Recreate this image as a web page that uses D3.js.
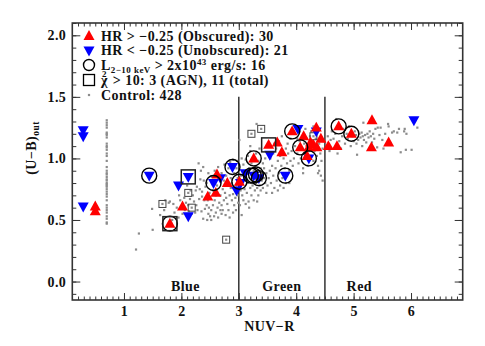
<!DOCTYPE html>
<html>
<head>
<meta charset="utf-8">
<script src="https://cdn.jsdelivr.net/npm/d3@7"></script>
<style>
  body { margin: 0; background: #fff; }
  svg text { font-family: "Liberation Serif", "Times New Roman", serif; font-weight: bold; fill: #111; letter-spacing: 0.45px; }
</style>
</head>
<body>
<div id="chart"></div>
<script>
// NUV-R vs (U-B)out, X-ray AGN hosts against the control sample

var obscured = [   // HR > -0.25, red up triangles
  [0.50, 0.61], [0.50, 0.57], [1.80, 0.47], [2.02, 0.61], [2.46, 0.69], [2.60, 0.72],
  [2.62, 0.87], [2.80, 0.80], [3.01, 0.81], [3.26, 1.00], [3.52, 1.11], [3.67, 1.13],
  [3.75, 1.05], [3.93, 1.22], [4.07, 1.09], [4.13, 1.18], [4.19, 1.02], [4.22, 1.09],
  [4.25, 1.13], [4.30, 1.11], [4.35, 1.25], [4.36, 1.09], [4.43, 1.16], [4.56, 1.10],
  [4.71, 1.10], [4.74, 1.26], [4.96, 1.20], [5.31, 1.09], [5.32, 1.31], [5.61, 1.13]
];
var unobscured = [ // HR < -0.25, blue down triangles
  [0.29, 1.23], [0.29, 1.18], [0.29, 0.61], [1.44, 0.86], [1.95, 0.78], [2.12, 0.85],
  [2.12, 0.53], [2.56, 0.80], [2.68, 0.84], [2.89, 0.93], [2.96, 0.74], [3.03, 0.80],
  [3.11, 0.88], [3.26, 0.86], [3.35, 0.84], [3.54, 1.03], [3.81, 0.86], [4.03, 1.24],
  [4.22, 1.00], [4.35, 1.22], [6.05, 1.31]
];
var luminous = [   // L(2-10 keV) > 2x10^43 erg/s, open circles
  [1.44, 0.86], [1.80, 0.47], [2.56, 0.80], [2.89, 0.93], [3.01, 0.81], [3.21, 0.86],
  [3.26, 1.00], [3.26, 0.86], [3.35, 0.84], [3.81, 0.86], [3.93, 1.22], [4.07, 1.09],
  [4.22, 1.00], [4.74, 1.26], [4.96, 1.20], [3.30, 0.87]
];
var chiAgn = [[1.80, 0.47], [2.12, 0.85], [3.52, 1.11]];   // chi^2 > 10, AGN
var chiControl = [                                        // chi^2 > 10, control
  [1.67, 0.63], [2.12, 0.72], [2.18, 0.60], [2.78, 0.34], [3.22, 1.20], [3.39, 1.24],
  [4.30, 1.18], [3.35, 0.86]
];

var controlColumn = [1.31, 1.29, 1.27, 1.25, 1.21, 1.20, 1.19, 1.17, 1.12, 1.10, 1.09,
  1.07, 1.04, 1.02, 0.98, 0.93, 0.90, 0.88, 0.87, 0.85, 0.83, 0.82, 0.80, 0.79, 0.78,
  0.77, 0.75, 0.73, 0.71, 0.69, 0.66, 0.62, 0.60, 0.58, 0.56, 0.53, 0.51, 0.48, 0.47];
var controlColumnX = 0.70;

var control = [
  [1.21, 0.26], [1.26, 0.39], [1.50, 0.42], [1.49, 0.59], [1.63, 0.54], [1.72, 0.66],
  [1.78, 0.64], [1.80, 0.65], [1.86, 0.63], [1.88, 0.56], [1.92, 0.60], [1.95, 0.52],
  [1.98, 0.66], [1.84, 0.50], [1.70, 0.58], [1.96, 0.70],
  [2.30, 0.96], [2.38, 0.93], [2.34, 0.90], [2.47, 0.88], [2.05, 0.68], [2.08, 0.64],
  [2.15, 0.67], [2.20, 0.70], [2.25, 0.74], [2.27, 0.77], [2.32, 0.75], [2.36, 0.73],
  [2.42, 0.77], [2.22, 0.65], [2.26, 0.62], [2.31, 0.67], [2.36, 0.69], [2.40, 0.66],
  [2.44, 0.62], [2.28, 0.58], [2.24, 0.56], [2.35, 0.57], [2.41, 0.59], [2.47, 0.55],
  [2.18, 0.55], [2.12, 0.62], [2.06, 0.58], [2.02, 0.55], [2.38, 0.51], [2.45, 0.50],
  [2.50, 0.53], [2.48, 0.60], [2.46, 0.66], [2.49, 0.72], [2.44, 0.80], [2.39, 0.82],
  [2.33, 0.83], [2.16, 0.74], [2.10, 0.78], [2.13, 0.57],
  [2.52, 0.58], [2.55, 0.62], [2.58, 0.66], [2.60, 0.56], [2.63, 0.60], [2.66, 0.64],
  [2.68, 0.70], [2.70, 0.62], [2.72, 0.58], [2.74, 0.66], [2.76, 0.72], [2.78, 0.68],
  [2.80, 0.63], [2.82, 0.58], [2.84, 0.70], [2.86, 0.76], [2.88, 0.66], [2.90, 0.71],
  [2.92, 0.62], [2.94, 0.68], [2.96, 0.78], [2.98, 0.70], [2.55, 0.74], [2.62, 0.78],
  [2.66, 0.85], [2.70, 0.88], [2.74, 0.82], [2.78, 0.86], [2.82, 0.92], [2.86, 0.84],
  [2.92, 0.88], [2.96, 0.92], [2.98, 0.84], [2.53, 0.85], [2.58, 0.90], [2.64, 0.93],
  [2.75, 0.95], [2.85, 0.97], [2.90, 0.99], [2.52, 0.50], [2.57, 0.53], [2.64, 0.52],
  [2.70, 0.55], [2.77, 0.54], [2.84, 0.52], [2.90, 0.56], [2.95, 0.58], [2.60, 0.70],
  [2.72, 0.75], [2.80, 0.78], [2.88, 0.80], [2.93, 0.75], [2.68, 0.58], [2.99, 0.64],
  [2.97, 0.98],
  [3.02, 0.62], [3.05, 0.54], [3.06, 0.70], [3.08, 0.66], [3.10, 0.75], [3.12, 0.63],
  [3.14, 0.72], [3.15, 0.80], [3.17, 0.65], [3.18, 0.92], [3.20, 0.76], [3.22, 0.70],
  [3.24, 0.78], [3.26, 0.66], [3.28, 0.74], [3.30, 0.80], [3.32, 0.76], [3.34, 0.70],
  [3.36, 0.78], [3.38, 0.74], [3.40, 0.82], [3.42, 0.76], [3.44, 0.84], [3.46, 0.80],
  [3.48, 0.88], [3.04, 0.86], [3.08, 0.95], [3.12, 0.99], [3.16, 1.02], [3.22, 0.96],
  [3.28, 0.93], [3.34, 0.98], [3.38, 0.92], [3.42, 0.96], [3.46, 1.00], [3.44, 0.92],
  [3.20, 1.06], [3.30, 1.04], [3.36, 1.08], [3.48, 0.72], [3.03, 0.74], [3.10, 0.84],
  [3.26, 0.90], [3.40, 0.88], [3.05, 1.00], [3.18, 0.60], [3.32, 0.65], [3.31, 1.28],
  [3.01, 1.15], [3.20, 1.10],
  [3.50, 0.78], [3.52, 0.84], [3.54, 0.90], [3.56, 0.80], [3.58, 0.94], [3.60, 0.86],
  [3.62, 0.76], [3.64, 0.92], [3.66, 0.82], [3.68, 0.98], [3.70, 0.88], [3.72, 0.78],
  [3.74, 0.94], [3.76, 0.84], [3.78, 1.00], [3.80, 0.92], [3.82, 0.80], [3.84, 0.96],
  [3.86, 1.04], [3.88, 0.90], [3.90, 0.98], [3.92, 1.06], [3.94, 0.94], [3.96, 1.00],
  [3.98, 1.10], [3.55, 1.00], [3.60, 1.04], [3.65, 1.08], [3.70, 1.14], [3.75, 1.18],
  [3.85, 1.12], [3.90, 1.16], [3.95, 1.20], [3.58, 0.72], [3.68, 0.74], [3.78, 0.76],
  [3.88, 0.80], [3.62, 1.12], [3.72, 1.02], [3.82, 1.08],
  [4.02, 1.04], [4.04, 0.96], [4.06, 1.14], [4.08, 1.00], [4.10, 1.08], [4.12, 0.92],
  [4.14, 1.12], [4.16, 1.04], [4.18, 1.16], [4.20, 0.94], [4.22, 1.06], [4.24, 1.18],
  [4.26, 1.02], [4.28, 1.14], [4.30, 0.98], [4.32, 1.06], [4.34, 1.16], [4.36, 1.02],
  [4.38, 0.94], [4.40, 1.12], [4.42, 1.04], [4.44, 0.98], [4.46, 1.08], [4.48, 1.14],
  [4.40, 0.90], [4.43, 0.86], [4.46, 0.82], [4.38, 0.88], [4.06, 1.22], [4.16, 1.24],
  [4.26, 1.22], [4.12, 0.88], [4.02, 1.16], [4.30, 1.26],
  [4.55, 1.18], [4.60, 1.15], [4.65, 1.16], [4.62, 1.22], [4.70, 1.32], [4.68, 1.20],
  [4.75, 1.14], [4.80, 1.18], [4.82, 1.24], [4.85, 1.12], [4.88, 1.20], [4.90, 1.16],
  [4.92, 1.26], [4.95, 1.10], [4.98, 1.18], [5.00, 1.14], [5.02, 1.22], [5.04, 1.19],
  [5.06, 1.03], [5.08, 1.15], [5.10, 1.20], [5.12, 1.17], [5.14, 1.21], [5.16, 1.18],
  [5.17, 1.29], [5.18, 1.15], [5.20, 1.19], [5.22, 1.13], [5.24, 1.20], [5.26, 1.17],
  [5.28, 1.22], [5.30, 1.18], [5.32, 1.13], [5.34, 1.20], [5.36, 1.16], [5.38, 1.24],
  [5.41, 1.09], [5.42, 1.25], [5.45, 1.19], [5.47, 1.25], [5.50, 1.15], [5.52, 1.08],
  [5.55, 1.20], [5.60, 1.28], [5.61, 1.26], [5.64, 1.12], [5.67, 1.21], [5.70, 1.22],
  [5.76, 1.21], [5.79, 1.24], [5.82, 1.05], [5.88, 1.22], [5.89, 1.24], [5.91, 1.07],
  [5.92, 1.20], [6.01, 1.07], [6.11, 1.25], [4.58, 1.06], [4.72, 1.04], [4.78, 1.08],
  [5.15, 1.10], [5.05, 1.12]
];

var xTicks = [1, 2, 3, 4, 5, 6];
var yTicks = [0.0, 0.5, 1.0, 1.5, 2.0];
var regionCuts = [3.0, 4.5];
var regionNames = ['Blue', 'Green', 'Red'];

var width = 485, height = 346;
// note: "top" is a read-only global in browsers, so the frame edges get a prefix
var fLeft = 72.3, fRight = 462.7, fTop = 23, fBottom = 300;

var x = d3.scaleLinear().domain([0.1, 6.9]).range([fLeft, fRight]);
var y = d3.scaleLinear().domain([-0.15, 2.1]).range([fBottom, fTop]);

var svg = d3.select('#chart').append('svg')
    .attr('width', width)
    .attr('height', height);

// ---- axes: ticks point inwards on all four sides
var xMinor = d3.range(2, 69).map(function(d) { return d / 10; });
var yMinor = d3.range(-1, 22).map(function(d) { return d / 10; });

function axisGroup(axis, tx, ty) {
    var g = svg.append('g').attr('transform', 'translate(' + tx + ',' + ty + ')').call(axis);
    g.select('.domain').remove();
    g.selectAll('line').attr('stroke', '#333').attr('stroke-width', 1);
    return g;
}
axisGroup(d3.axisBottom(x).tickValues(xMinor).tickSize(-3.5).tickFormat(''), 0, fBottom);
axisGroup(d3.axisTop(x).tickValues(xMinor).tickSize(-3.5).tickFormat(''), 0, fTop);
axisGroup(d3.axisLeft(y).tickValues(yMinor).tickSize(-4).tickFormat(''), fLeft, 0);
axisGroup(d3.axisRight(y).tickValues(yMinor).tickSize(-4).tickFormat(''), fRight, 0);

var xb = axisGroup(d3.axisBottom(x).tickValues(xTicks).tickSize(-7).tickPadding(6)
    .tickFormat(d3.format('d')), 0, fBottom);
axisGroup(d3.axisTop(x).tickValues(xTicks).tickSize(-7).tickFormat(''), 0, fTop);
var yl = axisGroup(d3.axisLeft(y).tickValues(yTicks).tickSize(-8).tickPadding(6)
    .tickFormat(d3.format('.1f')), fLeft, 0);
axisGroup(d3.axisRight(y).tickValues(yTicks).tickSize(-8).tickFormat(''), fRight, 0);
xb.selectAll('text').attr('font-size', 14).attr('font-family', null).attr('fill', null);
yl.selectAll('text').attr('font-size', 14).attr('font-family', null).attr('fill', null);

svg.append('rect')
    .attr('x', fLeft).attr('y', fTop)
    .attr('width', fRight - fLeft).attr('height', fBottom - fTop)
    .attr('fill', 'none').attr('stroke', '#333').attr('stroke-width', 1.6);

svg.append('text')
    .attr('x', (fLeft + fRight) / 2 + 2).attr('y', 331)
    .attr('text-anchor', 'middle').attr('font-size', 14)
    .text('NUV\u2212R');

var ylab = svg.append('text')
    .attr('transform', 'translate(36,148) rotate(-90)')
    .attr('text-anchor', 'middle').attr('font-size', 14);
ylab.append('tspan').text('(U\u2212B)');
ylab.append('tspan').attr('font-size', 9.5).attr('dy', 3).text('out');

// ---- green valley cuts and region names
svg.selectAll('.cut').data(regionCuts).enter().append('line')
    .attr('x1', function(d) { return x(d); }).attr('x2', function(d) { return x(d); })
    .attr('y1', y(-0.15)).attr('y2', y(1.5))
    .attr('stroke', '#333').attr('stroke-width', 1.5);

var regionCentres = [2.07, 3.75, 5.1];
svg.selectAll('.region').data(regionNames).enter().append('text')
    .attr('x', function(d, i) { return x(regionCentres[i]); })
    .attr('y', y(-0.08))
    .attr('text-anchor', 'middle').attr('font-size', 14)
    .text(function(d) { return d; });

// ---- markers
var grey = '#8c8c8c';
function tri(up, s) {
    var h = s * 0.9, w = s / 2;
    return up ? 'M0,' + (-h * 0.6) + 'L' + w + ',' + (h * 0.4) + 'L' + (-w) + ',' + (h * 0.4) + 'Z'
              : 'M0,' + (h * 0.6) + 'L' + w + ',' + (-h * 0.4) + 'L' + (-w) + ',' + (-h * 0.4) + 'Z';
}
function tr(d) { return 'translate(' + x(d[0]) + ',' + y(d[1]) + ')'; }

var all = control.concat(controlColumn.map(function(v) { return [controlColumnX, v]; }));
svg.append('g').selectAll('rect').data(all).enter().append('rect')
    .attr('x', function(d) { return x(d[0]) - 1.1; })
    .attr('y', function(d) { return y(d[1]) - 1.1; })
    .attr('width', 2.2).attr('height', 2.2).attr('fill', grey);

var sq = svg.append('g');
sq.selectAll('.cs').data(chiControl).enter().append('rect')
    .attr('x', function(d) { return x(d[0]) - 3.5; })
    .attr('y', function(d) { return y(d[1]) - 3.5; })
    .attr('width', 7).attr('height', 7)
    .attr('fill', 'none').attr('stroke', '#444').attr('stroke-width', 1);
sq.selectAll('.cd').data(chiControl).enter().append('rect')
    .attr('x', function(d) { return x(d[0]) - 1.1; })
    .attr('y', function(d) { return y(d[1]) - 1.1; })
    .attr('width', 2.2).attr('height', 2.2).attr('fill', grey);

svg.append('g').selectAll('path').data(unobscured).enter().append('path')
    .attr('transform', tr).attr('d', tri(false, 11)).attr('fill', '#0000ff');
svg.append('g').selectAll('path').data(obscured).enter().append('path')
    .attr('transform', tr).attr('d', tri(true, 11)).attr('fill', '#ff0000');

svg.append('g').selectAll('circle').data(luminous).enter().append('circle')
    .attr('cx', function(d) { return x(d[0]); }).attr('cy', function(d) { return y(d[1]); })
    .attr('r', 7.5).attr('fill', 'none').attr('stroke', '#000').attr('stroke-width', 1.4);

svg.append('g').selectAll('rect').data(chiAgn).enter().append('rect')
    .attr('x', function(d) { return x(d[0]) - 7; })
    .attr('y', function(d) { return y(d[1]) - 7; })
    .attr('width', 14).attr('height', 14)
    .attr('fill', 'none').attr('stroke', '#222').attr('stroke-width', 1.5);

// ---- legend
var lx = 89, tx = 101;
var rows = [36, 50.5, 65, 80, 95];
var leg = svg.append('g');
leg.append('path').attr('transform', 'translate(' + lx + ',' + rows[0] + ')')
    .attr('d', tri(true, 11)).attr('fill', '#ff0000');
leg.append('path').attr('transform', 'translate(' + lx + ',' + rows[1] + ')')
    .attr('d', tri(false, 11)).attr('fill', '#0000ff');
leg.append('circle').attr('cx', lx).attr('cy', rows[2]).attr('r', 5.5)
    .attr('fill', 'none').attr('stroke', '#000').attr('stroke-width', 1.4);
leg.append('rect').attr('x', lx - 5.5).attr('y', rows[3] - 5.5).attr('width', 11).attr('height', 11)
    .attr('fill', 'none').attr('stroke', '#000').attr('stroke-width', 1.3);
leg.append('rect').attr('x', lx - 1.1).attr('y', rows[4] - 1.1).attr('width', 2.2).attr('height', 2.2)
    .attr('fill', grey);

function legText(i) {
    return leg.append('text').attr('x', tx).attr('y', rows[i] + 4.5).attr('font-size', 14);
}
legText(0).text('HR > \u22120.25 (Obscured): 30');
legText(1).text('HR < \u22120.25 (Unobscured): 21');
var t2 = legText(2);
t2.append('tspan').text('L');
t2.append('tspan').attr('font-size', 9).attr('dy', 3).text('2\u221210 keV');
t2.append('tspan').attr('dy', -3).text(' > 2x10');
t2.append('tspan').attr('font-size', 9).attr('dy', -5).text('43');
t2.append('tspan').attr('dy', 5).text(' erg/s: 16');
var t3 = legText(3);
t3.append('tspan').text('\u03c7');
t3.append('tspan').attr('font-size', 9).attr('dx', -6).attr('dy', -8).text('2');
t3.append('tspan').attr('dy', 8).attr('dx', 2).text(' > 10: 3 (AGN), 11 (total)');
legText(4).text('Control: 428');
</script>
</body>
</html>
